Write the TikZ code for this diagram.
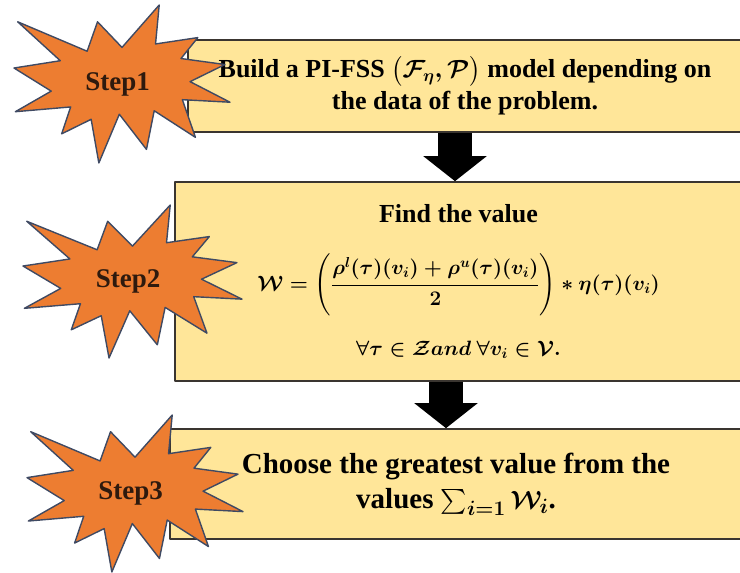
\documentclass[tikz,border=0pt]{standalone}
\usepackage{fontspec}
\setmainfont{Liberation Serif}
\usepackage{amsmath}
\usetikzlibrary{arrows.meta,positioning}
\definecolor{boxfill}{HTML}{FFE699}
\definecolor{boxline}{HTML}{3A3530}
\definecolor{burstfill}{HTML}{ED7D31}
\definecolor{burstline}{HTML}{3F4A63}
\definecolor{steptext}{HTML}{2E1A0E}

\begin{document}
\begin{tikzpicture}[
  x=1pt,
  y=-1pt,
  line join=round,
  stepbox/.style={draw=boxline,fill=boxfill,line width=1.6pt,align=center,inner sep=0pt,
    font=\bfseries\boldmath\fontsize{26}{32}\selectfont},
  burst/.style={draw=burstline,fill=burstfill,line width=1.4pt},
  steplabel/.style={font=\bfseries\fontsize{27}{30}\selectfont,text=steptext,inner sep=0pt},
  flowarrow/.style={draw=black,line width=34pt,-{Triangle[length=25pt,width=62pt]}}
]
  \newcommand{\drawburst}[6]{%
    \begin{scope}[shift={(#1,#2)},xscale=#3/100,yscale=#4/100]
      \path[burst] (50,26.85) -- (67.23,0) -- (65.53,24.65) -- (85.09,20.63)
        -- (77.32,33.87) -- (97.67,37.67) -- (81.51,48.50) -- (100,61.53)
        -- (77.95,59.92) -- (84.00,83.77) -- (64.91,66.93) -- (61.33,91.38)
        -- (48.76,69.14) -- (39.28,100) -- (35.72,72.35) -- (22.05,81.56)
        -- (26.24,64.52) -- (0.63,67.53) -- (17.23,54.51) -- (0,39.88)
        -- (21.42,35.26) -- (1.71,10.63) -- (33.85,29.26) -- (38.67,10.63) -- cycle;
      \node[steplabel] (#5) at (48,50) {#6};
    \end{scope}
  }

  \clip (0,0) rectangle (740,573);
  \useasboundingbox (0,0) rectangle (740,573);

  % the three step boxes, running past the right edge
  \node[stepbox,minimum width=554pt,minimum height=92pt] (box1) at (465,86)
    {Build a PI-FSS $\big(\mathcal{F}_{\eta},\mathcal{P}\big)$ model depending on\\
     the data of the problem.};
  \node[stepbox,minimum width=567pt,minimum height=199pt] (box2) at (458.5,281.5)
    {Find the value\\[30pt]
     {\fontsize{22}{26}\selectfont$\displaystyle \mathcal{W}=\left(\frac{\rho^{l}(\tau)(v_{i})+\rho^{u}(\tau)(v_{i})}{2}\right)*\eta(\tau)(v_{i})$}\\[24pt]
     {\fontsize{21}{26}\selectfont$\forall\tau\in\mathcal{Z}and\ \forall v_{i}\in\mathcal{V}.$}};
  \node[stepbox,minimum width=572pt,minimum height=110pt,
    font=\bfseries\boldmath\fontsize{29}{35}\selectfont] (box3) at (456,484)
    {Choose the greatest value from the\\
     values $\sum_{i=1}\mathcal{W}_{i}$.};

  % block arrows between the boxes
  \draw[flowarrow] ([xshift=-10pt]box1.south) -- ([xshift=-10pt]box1.south |- box2.north);
  \draw[flowarrow] ([xshift=-12.5pt]box2.south) -- ([xshift=-12.5pt]box2.south |- box3.north);

  % explosion badges on the left
  \drawburst{14}{5}{216}{158}{step1}{Step1}
  \drawburst{23}{205}{219}{153}{step2}{Step2}
  \drawburst{27}{415}{216}{157}{step3}{Step3}
\end{tikzpicture}
\end{document}
